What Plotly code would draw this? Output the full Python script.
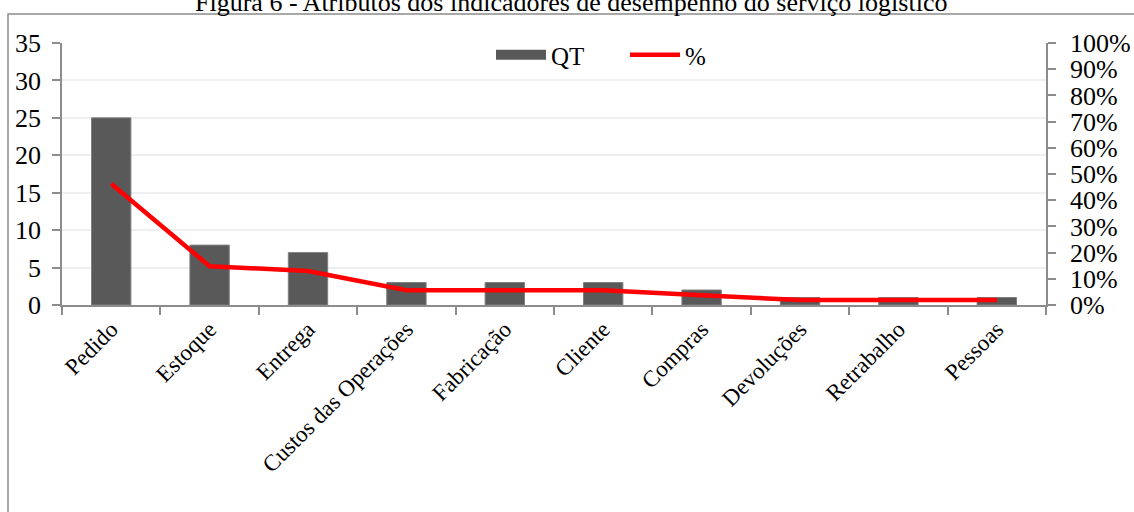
import plotly.graph_objects as go

categories = ["Pedido", "Estoque", "Entrega", "Custos das Operações", "Fabricação",
              "Cliente", "Compras", "Devoluções", "Retrabalho", "Pessoas"]
qt = [25, 8, 7, 3, 3, 3, 2, 1, 1, 1]
pct = [0.463, 0.148, 0.130, 0.056, 0.056, 0.056, 0.037, 0.019, 0.019, 0.019]

FONT = "Liberation Serif, Times New Roman, serif"
W, H = 1134, 512
L, R, T, B = 62, 1046, 43, 305
BAR_COLOR = "#595959"

def px(x):
    return (x - L) / (R - L)

def py(y):
    return (B - y) / (B - T)

fig = go.Figure()
fig.add_trace(go.Bar(x=categories, y=qt, name="QT", showlegend=False,
                     marker=dict(color=BAR_COLOR, line=dict(color="#7f7f7f", width=1)),
                     width=0.4, yaxis="y"))
# legend-only entry drawing QT as a wide block, like the original legend key
fig.add_trace(go.Scatter(x=[None], y=[None], name="QT", mode="lines",
                         line=dict(color=BAR_COLOR, width=14), yaxis="y"))
fig.add_trace(go.Scatter(x=categories, y=pct, name="%", mode="lines",
                         line=dict(color="#ff0000", width=4.5), yaxis="y2"))

fig.update_layout(
    width=W, height=H,
    margin=dict(l=L, r=W - R, t=T, b=H - B, autoexpand=False),
    paper_bgcolor="white", plot_bgcolor="white",
    font=dict(family=FONT, size=24, color="#000000"),
    showlegend=True,
    legend=dict(orientation="h", x=px(491), y=py(55), xanchor="left", yanchor="middle",
                font=dict(family=FONT, size=25), bgcolor="rgba(0,0,0,0)", entrywidth=69,
                entrywidthmode="pixels", itemwidth=50),
    bargap=0.6,
    xaxis=dict(type="category", showline=True, linecolor="#8c8c8c", linewidth=1.5,
               ticks="outside", ticklen=8, tickcolor="#8c8c8c", tickwidth=1.5, tickson="boundaries",
               tickangle=-45, tickfont=dict(family=FONT, size=23), showgrid=False, automargin=False),
    yaxis=dict(range=[0, 35], dtick=5, showline=True, linecolor="#8c8c8c", linewidth=1.5,
               ticks="outside", ticklen=8, tickcolor="#8c8c8c", tickwidth=1.5,
               showgrid=True, gridcolor="#efefef", gridwidth=1.5, zeroline=False, automargin=False,
               ticklabelstandoff=6, tickfont=dict(family=FONT, size=26)),
    yaxis2=dict(range=[0, 1], dtick=0.1, tickformat=".0%", overlaying="y", side="right",
                showline=True, linecolor="#8c8c8c", linewidth=1.5, ticks="outside", ticklen=8,
                tickcolor="#8c8c8c", tickwidth=1.5, showgrid=False, zeroline=False, automargin=False,
                ticklabelstandoff=9, tickfont=dict(family=FONT, size=26)),
    annotations=[dict(text="Figura 6 - Atributos dos indicadores de desempenho do serviço logístico",
                      xref="paper", yref="paper", x=px(571), y=py(3), xanchor="center", yanchor="middle",
                      showarrow=False, font=dict(family=FONT, size=26))],
    shapes=[dict(type="rect", xref="paper", yref="paper", x0=px(8), x1=px(1150), y0=py(530), y1=py(14),
                 line=dict(color="#8c8c8c", width=1.5), fillcolor="rgba(0,0,0,0)", layer="below")],
)

fig.write_html("out.html")
